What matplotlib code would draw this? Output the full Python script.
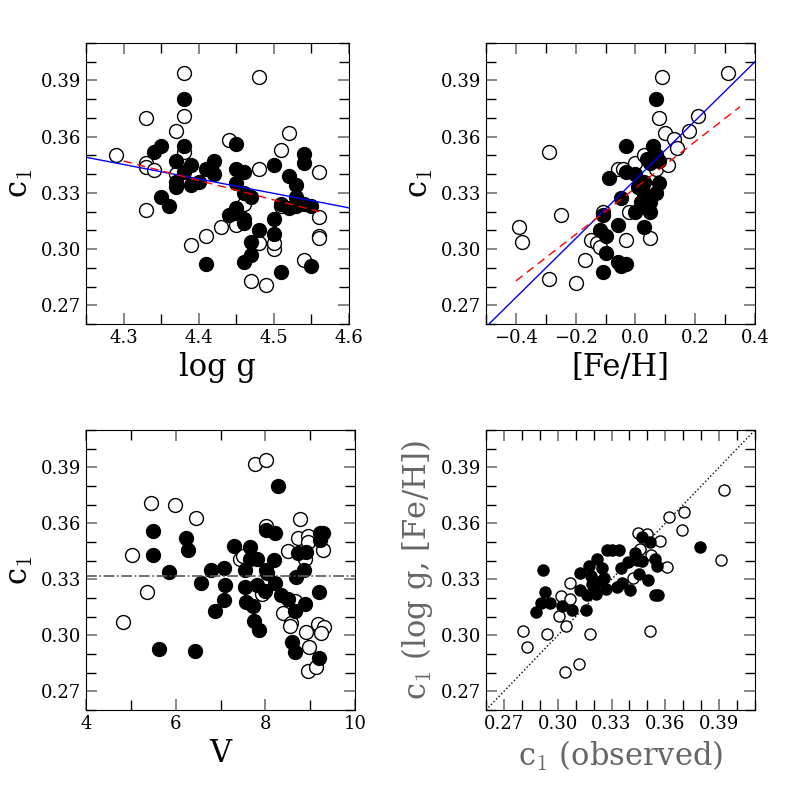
import numpy as np
import matplotlib
matplotlib.use("Agg")
import matplotlib.pyplot as plt
from matplotlib.ticker import MultipleLocator

plt.rcParams['font.family'] = ['DejaVu Serif']
plt.rcParams['mathtext.fontset'] = 'cm'

# panel 1: log g vs c1
logg_open = [4.29, 4.33, 4.33, 4.33, 4.34, 4.33, 4.37, 4.38, 4.38, 4.38, 4.37, 4.39, 4.41, 4.43, 4.44, 4.46,
             4.45, 4.48, 4.48, 4.48, 4.50, 4.50, 4.51, 4.52, 4.51, 4.47, 4.49, 4.54, 4.56, 4.56, 4.56, 4.56]
c1_logg_open = [0.350, 0.370, 0.346, 0.344, 0.342, 0.321, 0.363, 0.394, 0.371, 0.352, 0.340, 0.302, 0.307, 0.312,
                0.358, 0.324, 0.313, 0.392, 0.343, 0.303, 0.300, 0.303, 0.323, 0.362, 0.353, 0.283, 0.281, 0.294,
                0.341, 0.317, 0.307, 0.306]
logg_fill = [4.34, 4.35, 4.35, 4.36, 4.37, 4.38, 4.38, 4.37, 4.37, 4.38, 4.39, 4.39, 4.40, 4.41, 4.42, 4.42,
             4.41, 4.45, 4.45, 4.45, 4.46, 4.46, 4.45, 4.44, 4.45, 4.46, 4.46, 4.47, 4.48, 4.47, 4.47, 4.46,
             4.50, 4.50, 4.50, 4.52, 4.51, 4.53, 4.54, 4.54, 4.53, 4.53, 4.54, 4.55, 4.55, 4.51, 4.52]
c1_logg_fill = [0.352, 0.355, 0.328, 0.323, 0.347, 0.380, 0.355, 0.336, 0.333, 0.341, 0.345, 0.334, 0.336, 0.343,
                0.347, 0.340, 0.292, 0.356, 0.343, 0.335, 0.341, 0.330, 0.322, 0.318, 0.319, 0.316, 0.314, 0.328,
                0.310, 0.304, 0.297, 0.293, 0.345, 0.316, 0.308, 0.339, 0.288, 0.334, 0.346, 0.351, 0.328, 0.323,
                0.324, 0.323, 0.291, 0.324, 0.322]
logg_blue = ([4.25, 4.60], [0.349, 0.322])
logg_red = ([4.30, 4.56], [0.347, 0.320])

# panel 2: [Fe/H] vs c1
feh_open = [-0.39, -0.38, -0.29, -0.25, -0.29, -0.20, -0.17, -0.15, -0.13, -0.12, -0.11, -0.03, -0.02, 0.05,
            0.07, 0.07, 0.08, 0.09, 0.10, 0.13, 0.14, 0.18, 0.21, 0.31, 0.11, -0.06, -0.04, 0.00, 0.03]
c1_feh_open = [0.312, 0.304, 0.352, 0.318, 0.284, 0.282, 0.294, 0.305, 0.303, 0.301, 0.320, 0.305, 0.320, 0.306,
               0.349, 0.343, 0.370, 0.392, 0.362, 0.359, 0.354, 0.363, 0.371, 0.394, 0.345, 0.343, 0.343, 0.346,
               0.350]
feh_fill = [-0.09, -0.11, -0.10, -0.10, -0.11, -0.12, -0.06, -0.05, -0.03, -0.06, -0.05, -0.03, -0.03, 0.00,
            0.01, 0.02, 0.03, 0.04, 0.05, 0.00, 0.03, 0.05, 0.06, 0.07, 0.08, 0.07, 0.08, 0.03, 0.05, 0.04, 0.07]
c1_feh_fill = [0.338, 0.318, 0.307, 0.298, 0.288, 0.310, 0.293, 0.291, 0.292, 0.313, 0.327, 0.341, 0.355, 0.340,
               0.333, 0.325, 0.330, 0.322, 0.320, 0.320, 0.336, 0.346, 0.355, 0.350, 0.347, 0.380, 0.335, 0.312,
               0.325, 0.348, 0.330]
feh_blue = ([-0.49, 0.40], [0.260, 0.400])
feh_red = ([-0.40, 0.35], [0.283, 0.376])

# panel 3: V vs c1 (read in zoom pixels, converted below)
v_open_px = [(215, 235), (287, 240), (350, 280), (158, 392), (527, 117), (560, 105), (203, 505), (133, 595),
             (558, 305), (660, 285), (655, 342), (685, 335), (685, 352), (625, 380), (730, 377), (480, 405),
             (490, 395), (677, 405), (548, 510), (610, 567), (635, 598), (630, 605), (680, 625), (715, 600),
             (732, 610), (722, 628), (688, 668), (685, 742), (708, 730), (645, 530)]
v_fill_px = [(220, 320), (220, 393), (270, 443), (320, 340), (327, 377), (240, 675), (347, 680), (365, 478),
             (395, 438), (432, 432), (435, 483), (432, 528), (408, 562), (462, 365), (510, 368), (497, 437),
             (510, 403), (532, 405), (495, 488), (500, 535), (520, 545), (522, 590), (538, 617), (532, 483),
             (558, 437), (563, 447), (557, 500), (582, 408), (585, 478), (595, 185), (558, 318), (585, 325),
             (603, 512), (625, 525), (645, 560), (648, 458), (655, 385), (680, 382), (673, 437), (677, 540),
             (638, 655), (645, 685), (717, 505), (718, 703), (720, 325), (730, 325), (720, 347)]
v_mean = 0.3317

# panel 4: observed vs fitted c1
fit_open_px = [(738, 197), (617, 263), (572, 278), (610, 318), (478, 325), (505, 328), (545, 350), (483, 375),
               (518, 392), (567, 428), (728, 407), (462, 462), (272, 477), (245, 515), (272, 525), (238, 577),
               (260, 605), (130, 620), (202, 630), (332, 630), (143, 670), (298, 720), (257, 745), (513, 620)]
fit_fill_px = [(190, 438), (197, 503), (185, 537), (212, 537), (170, 563), (248, 545), (278, 557), (320, 557),
               (303, 447), (303, 497), (330, 425), (335, 455), (325, 512), (345, 490), (355, 405), (370, 430),
               (375, 460), (385, 378), (400, 378), (420, 378), (350, 510), (380, 495), (415, 490), (455, 497),
               (425, 432), (430, 478), (448, 413), (470, 385), (475, 408), (480, 448), (490, 410), (490, 338),
               (515, 352), (508, 468), (530, 405), (535, 425), (530, 512), (537, 512), (665, 368), (365, 470),
               (340, 480)]


def yval(zy):
    return 0.39 - (zy - 128) / 5625.0


v_open = [5 + (x - 155) / 134.0 for x, y in v_open_px]
c1_v_open = [yval(y) for x, y in v_open_px]
v_fill = [5 + (x - 155) / 134.0 for x, y in v_fill_px]
c1_v_fill = [yval(y) for x, y in v_fill_px]
obs_open = [0.27 + (x - 72) / 5430.0 for x, y in fit_open_px]
fit_open = [yval(y) for x, y in fit_open_px]
obs_fill = [0.27 + (x - 72) / 5430.0 for x, y in fit_fill_px]
fit_fill = [yval(y) for x, y in fit_fill_px]

W = 797.0
fig = plt.figure(figsize=(7.97, 7.97), dpi=100)
boxes = [(86, 43, 349, 324), (486, 43, 755, 324), (86, 430, 355, 710), (486, 430, 755, 710)]
axs = [fig.add_axes([l / W, 1 - b / W, (r - l) / W, (b - t) / W]) for l, t, r, b in boxes]

ms = 10
def pts(ax, xo, yo, xf, yf):
    ax.plot(xo, yo, 'o', ms=ms, mfc='white', mec='black', mew=1.0, ls='none')
    ax.plot(xf, yf, 'o', ms=ms, mfc='black', mec='black', ls='none')

for ax in axs:
    ax.set_ylim(0.26, 0.41)
    ax.yaxis.set_major_locator(MultipleLocator(0.03))
    ax.yaxis.set_minor_locator(MultipleLocator(0.01))
    ax.tick_params(which='both', direction='in', top=True, right=True, labelsize=13)
    ax.tick_params(which='major', length=8, width=1.2, color='0.45')
    ax.tick_params(which='minor', length=7, width=1.0)
    ax.yaxis.set_major_formatter(matplotlib.ticker.FormatStrFormatter('%.2f'))

ax = axs[0]
pts(ax, logg_open, c1_logg_open, logg_fill, c1_logg_fill)
ax.plot(*logg_blue, color='blue', lw=1)
ax.plot(*logg_red, color='red', lw=1, ls=(0, (6, 4)))
ax.set_xlim(4.25, 4.6)
ax.xaxis.set_major_locator(MultipleLocator(0.1))
ax.xaxis.set_minor_locator(MultipleLocator(0.05))
ax.set_xlabel('log g', fontsize=22)
ax.set_ylabel('c$_1$', fontsize=22)

ax = axs[1]
pts(ax, feh_open, c1_feh_open, feh_fill, c1_feh_fill)
ax.plot(*feh_blue, color='blue', lw=1)
ax.plot(*feh_red, color='red', lw=1, ls=(0, (6, 4)))
ax.set_xlim(-0.5, 0.4)
ax.xaxis.set_major_locator(MultipleLocator(0.2))
ax.xaxis.set_minor_locator(MultipleLocator(0.1))
ax.set_xlabel('[Fe/H]', fontsize=22)
ax.set_ylabel('c$_1$', fontsize=22)

ax = axs[2]
pts(ax, v_open, c1_v_open, v_fill, c1_v_fill)
ax.axhline(v_mean, color='0.35', lw=1.2, ls='-.')
ax.set_xlim(4, 10)
ax.xaxis.set_major_locator(MultipleLocator(2))
ax.xaxis.set_minor_locator(MultipleLocator(1))
ax.set_xlabel('V', fontsize=22)
ax.set_ylabel('c$_1$', fontsize=22)

ax = axs[3]
ms = 8
ax.plot([0.25, 0.42], [0.25, 0.42], ls=':', color='black', lw=1)
pts(ax, obs_open, fit_open, obs_fill, fit_fill)
ax.set_xlim(0.26, 0.41)
ax.xaxis.set_major_locator(MultipleLocator(0.03))
ax.xaxis.set_minor_locator(MultipleLocator(0.01))
ax.xaxis.set_major_formatter(matplotlib.ticker.FormatStrFormatter('%.2f'))
ax.set_xlabel('c$_1$ (observed)', fontsize=22, color='0.4')
ax.set_ylabel('c$_1$ (log g, [Fe/H])', fontsize=22, color='0.4')

fig.savefig('out.png', dpi=100)
